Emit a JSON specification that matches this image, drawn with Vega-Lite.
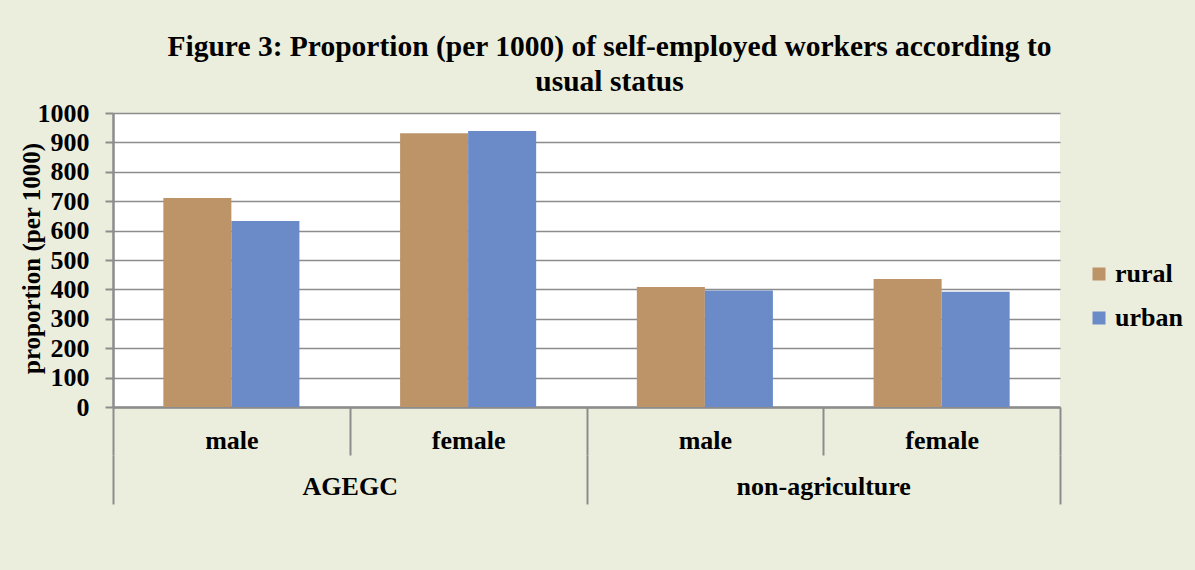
{
  "$schema": "https://vega.github.io/schema/vega-lite/v6.json",
  "width": 947,
  "height": 294,
  "autosize": {"type": "none"},
  "padding": {"left": 113, "top": 113, "right": 135, "bottom": 163},
  "background": "#EBEEDD",
  "config": {"view": {"fill": "white", "stroke": null}, "font": "Liberation Serif"},
  "title": {
    "text": ["Figure 3: Proportion (per 1000) of self-employed workers  according to", "usual status"],
    "font": "Liberation Serif",
    "fontSize": 29.5,
    "fontWeight": "bold",
    "color": "black",
    "anchor": "middle",
    "dx": 23,
    "offset": 3,
    "lineHeight": 35
  },
  "data": {
    "values": [
      {"group": "AGEGC", "sex": "male", "cat": "AGEGC|male", "type": "rural", "value": 711},
      {"group": "AGEGC", "sex": "male", "cat": "AGEGC|male", "type": "urban", "value": 633},
      {"group": "AGEGC", "sex": "female", "cat": "AGEGC|female", "type": "rural", "value": 931},
      {"group": "AGEGC", "sex": "female", "cat": "AGEGC|female", "type": "urban", "value": 939},
      {"group": "non-agriculture", "sex": "male", "cat": "non-agriculture|male", "type": "rural", "value": 408},
      {"group": "non-agriculture", "sex": "male", "cat": "non-agriculture|male", "type": "urban", "value": 396},
      {"group": "non-agriculture", "sex": "female", "cat": "non-agriculture|female", "type": "rural", "value": 435},
      {"group": "non-agriculture", "sex": "female", "cat": "non-agriculture|female", "type": "urban", "value": 392}
    ]
  },
  "layer": [
    {
      "mark": {"type": "bar"},
      "encoding": {
        "x": {
          "field": "cat",
          "type": "nominal",
          "sort": null,
          "scale": {"paddingInner": 0, "paddingOuter": 0},
          "axis": {
            "title": null,
            "labelExpr": "split(datum.label, '|')[1]",
            "labelAngle": 0,
            "labelFont": "Liberation Serif",
            "labelFontSize": 26,
            "labelFontWeight": "bold",
            "labelColor": "black",
            "labelBaseline": "alphabetic",
            "labelPadding": -7,
            "tickBand": "extent",
            "tickSize": 48,
            "tickColor": "#8C8C8C",
            "tickWidth": 2,
            "domainColor": "#8C8C8C",
            "domainWidth": 2.5,
            "grid": false
          }
        },
        "xOffset": {
          "field": "type",
          "type": "nominal",
          "scale": {"paddingInner": 0, "paddingOuter": 0.74}
        },
        "y": {
          "field": "value",
          "type": "quantitative",
          "scale": {"domain": [0, 1000]},
          "axis": {
            "title": "proportion (per 1000)",
            "values": [0, 100, 200, 300, 400, 500, 600, 700, 800, 900, 1000],
            "format": "d",
            "grid": true,
            "gridColor": "#8C8C8C",
            "gridWidth": 1.5,
            "domainColor": "#8C8C8C",
            "domainWidth": 2.5,
            "tickColor": "#8C8C8C",
            "tickSize": 8,
            "tickWidth": 2,
            "labelFlush": false,
            "labelFont": "Liberation Serif",
            "labelFontSize": 26,
            "labelFontWeight": "bold",
            "labelColor": "black",
            "labelPadding": 16,
            "titleFont": "Liberation Serif",
            "titleFontSize": 25,
            "titleFontWeight": "bold",
            "titleColor": "black",
            "titleX": -82,
            "titleY": 145,
            "titleBaseline": "middle"
          }
        },
        "color": {
          "field": "type",
          "type": "nominal",
          "scale": {"domain": ["rural", "urban"], "range": ["#BC9468", "#6A8AC8"]},
          "legend": {
            "title": null,
            "orient": "none",
            "legendX": 973,
            "legendY": 148,
            "direction": "vertical",
            "symbolType": "square",
            "symbolSize": 169,
            "symbolStrokeWidth": 0,
            "labelFont": "Liberation Serif",
            "labelFontSize": 26,
            "labelFontWeight": "bold",
            "labelColor": "black",
            "rowPadding": 18,
            "labelOffset": 3,
            "padding": 0
          }
        }
      }
    },
    {
      "mark": {"type": "bar", "opacity": 0},
      "encoding": {
        "x": {
          "field": "group",
          "type": "nominal",
          "sort": null,
          "scale": {"paddingInner": 0, "paddingOuter": 0},
          "axis": {
            "title": null,
            "orient": "bottom",
            "offset": 48,
            "domain": false,
            "labelAngle": 0,
            "labelFont": "Liberation Serif",
            "labelFontSize": 26,
            "labelFontWeight": "bold",
            "labelColor": "black",
            "labelBaseline": "alphabetic",
            "labelPadding": -10,
            "tickBand": "extent",
            "tickSize": 49,
            "tickColor": "#8C8C8C",
            "tickWidth": 2,
            "grid": false
          }
        }
      }
    }
  ],
  "resolve": {"scale": {"x": "independent"}}
}
